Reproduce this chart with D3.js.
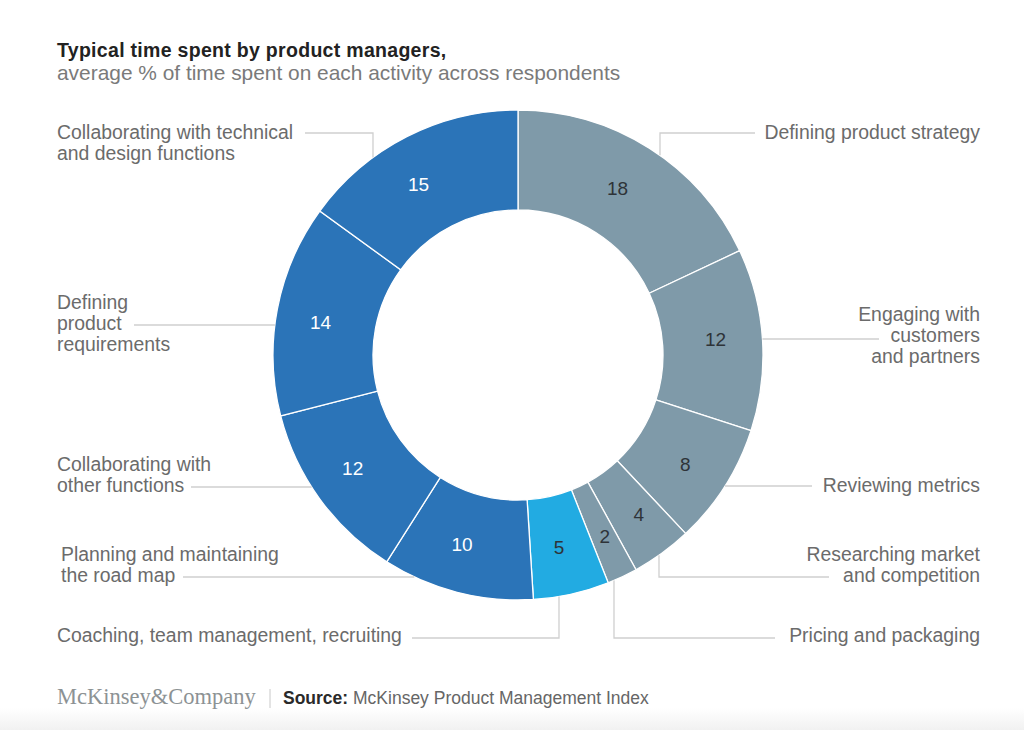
<!DOCTYPE html>
<html>
<head>
<meta charset="utf-8">
<script src="https://cdn.jsdelivr.net/npm/d3@7/dist/d3.min.js"></script>
<style>
  html, body { margin: 0; padding: 0; background: #fff; }
  svg { display: block; font-family: "Liberation Sans", Arial, Helvetica, sans-serif; }
</style>
</head>
<body>
<svg id="chart" width="1024" height="730"></svg>
<script>
// ---- data ----
const categories = [
  "Defining product strategy",
  "Engaging with customers and partners",
  "Reviewing metrics",
  "Researching market and competition",
  "Pricing and packaging",
  "Coaching, team management, recruiting",
  "Planning and maintaining the road map",
  "Collaborating with other functions",
  "Defining product requirements",
  "Collaborating with technical and design functions"
];
const values = [18, 12, 8, 4, 2, 5, 10, 12, 14, 15];
const groups = ["product", "product", "product", "product", "product", "people", "build", "build", "build", "build"];
const labelLines = [
  ["Defining product strategy"],
  ["Engaging with", "customers", "and partners"],
  ["Reviewing metrics"],
  ["Researching market", "and competition"],
  ["Pricing and packaging"],
  ["Coaching, team management, recruiting"],
  ["Planning and maintaining", "the road map"],
  ["Collaborating with", "other functions"],
  ["Defining", "product", "requirements"],
  ["Collaborating with technical", "and design functions"]
];
const titleText = "Typical time spent by product managers,";
const subtitleText = "average % of time spent on each activity across respondents";
const sourceLabel = "Source:";
const sourceText = " McKinsey Product Management Index";
const brandText = "McKinsey&Company";

// ---- layout (not data) ----
const cx = 518, cy = 355, R = 245, r0 = 145;
const layout = [
  { side: "right", lineY: 133, elbowX: 660, endX: 755, base: 139, nx: -6, ny: -1 },
  { side: "right", lineY: 339, elbowX: null, endX: 879, base: 321, nx: 1, ny: -3 },
  { side: "right", lineY: 486, elbowX: null, endX: 812, base: 492, nx: 1, ny: 4 },
  { side: "right", lineY: 577, elbowX: 659, endX: 829, base: 561, nx: 5, ny: 0 },
  { side: "right", lineY: 638, elbowX: 614, endX: 775, base: 642, nx: 3, ny: 3 },
  { side: "left",  lineY: 638, elbowX: 559, endX: 412, base: 642, textX: 57, nx: -2, ny: 0 },
  { side: "left",  lineY: 577, elbowX: null, endX: 183, base: 561, textX: 61, nx: -7, ny: -2 },
  { side: "left",  lineY: 487, elbowX: null, endX: 191, base: 471, textX: 57, nx: -6, ny: -3 },
  { side: "left",  lineY: 325, elbowX: null, endX: 134, base: 309, textX: 57, nx: -4, ny: 4 },
  { side: "left",  lineY: 133, elbowX: 373, endX: 305, base: 139, textX: 57, nx: -10, ny: 5 }
];
const lineH = 21;

const color = d3.scaleOrdinal()
  .domain(["product", "people", "build"])
  .range(["#7f9aa9", "#22abe2", "#2b74b8"]);
const numColor = d3.scaleOrdinal()
  .domain(["product", "people", "build"])
  .range(["#2e3338", "#2e3338", "#ffffff"]);

const svg = d3.select("#chart");

// bottom soft gradient
const defs = svg.append("defs");
const grad = defs.append("linearGradient").attr("id", "bottomGrad")
  .attr("x1", 0).attr("y1", 0).attr("x2", 0).attr("y2", 1);
grad.append("stop").attr("offset", "0%").attr("stop-color", "#ffffff");
grad.append("stop").attr("offset", "100%").attr("stop-color", "#f1f1f1");
svg.append("rect").attr("x", 0).attr("y", 708).attr("width", 1024).attr("height", 22)
  .attr("fill", "url(#bottomGrad)");

// title
svg.append("text").attr("x", 57).attr("y", 57)
  .attr("font-size", 19.5).attr("font-weight", "bold").attr("letter-spacing", 0.3)
  .attr("fill", "#222").text(titleText);
svg.append("text").attr("x", 57).attr("y", 80)
  .attr("font-size", 20.9).attr("fill", "#7a7a7a").text(subtitleText);

// donut
const pie = d3.pie().value(d => d.value).sort(null).startAngle(0).endAngle(2 * Math.PI);
const data = values.map((v, i) => ({ value: v, cat: categories[i], group: groups[i], i }));
const arcs = pie(data);
const arc = d3.arc().innerRadius(r0).outerRadius(R);
const labelArc = d3.arc().innerRadius(197).outerRadius(197);

const g = svg.append("g").attr("transform", `translate(${cx},${cy})`);
g.selectAll("path.slice").data(arcs).join("path")
  .attr("class", "slice")
  .attr("d", arc)
  .attr("fill", d => color(d.data.group))
  .attr("stroke", "#ffffff")
  .attr("stroke-width", 1.3);

g.selectAll("text.num").data(arcs).join("text")
  .attr("class", "num")
  .attr("transform", (d, i) => {
    const c = labelArc.centroid(d);
    return `translate(${c[0] + layout[i].nx},${c[1] + layout[i].ny})`;
  })
  .attr("text-anchor", "middle")
  .attr("dy", "0.36em")
  .attr("font-size", 19)
  .attr("fill", d => numColor(d.data.group))
  .text(d => d.data.value);

// leader lines
const leaders = svg.append("g").attr("fill", "none").attr("stroke", "#cfcfcf").attr("stroke-width", 1.3);
arcs.forEach((a, i) => {
  const L = layout[i];
  const mid = (a.startAngle + a.endAngle) / 2;
  const pts = [];
  if (L.elbowX !== null) {
    const dx = L.elbowX - cx;
    const dy = Math.sqrt(R * R - dx * dx);
    const y0 = Math.cos(mid) > 0 ? cy - dy : cy + dy;
    pts.push([L.elbowX, y0], [L.elbowX, L.lineY], [L.endX, L.lineY]);
  } else {
    const dy = L.lineY - cy;
    const dx = Math.sqrt(R * R - dy * dy);
    const x0 = Math.sin(mid) > 0 ? cx + dx : cx - dx;
    pts.push([x0, L.lineY], [L.endX, L.lineY]);
  }
  leaders.append("path").attr("d", d3.line()(pts));
});

// category labels
arcs.forEach((a, i) => {
  const L = layout[i];
  const t = svg.append("text")
    .attr("font-size", 19.4)
    .attr("fill", "#6b6b6b")
    .attr("text-anchor", L.side === "right" ? "end" : "start");
  labelLines[i].forEach((line, k) => {
    t.append("tspan")
      .attr("x", L.side === "right" ? 980 : L.textX)
      .attr("y", L.base + k * lineH)
      .text(line);
  });
});

// footer
svg.append("text").attr("x", 57).attr("y", 703.5)
  .style("font-family", "'Liberation Serif', 'Times New Roman', serif")
  .attr("font-size", 22.5)
  .attr("fill", "#8c9294").text(brandText);
svg.append("line").attr("x1", 270).attr("x2", 270).attr("y1", 689).attr("y2", 708)
  .attr("stroke", "#c8c8c8").attr("stroke-width", 1);
const src = svg.append("text").attr("x", 283).attr("y", 703.5).attr("font-size", 17.5);
src.append("tspan").attr("font-weight", "bold").attr("fill", "#2a2a2a").text(sourceLabel);
src.append("tspan").attr("fill", "#666").text(sourceText);
</script>
</body>
</html>
